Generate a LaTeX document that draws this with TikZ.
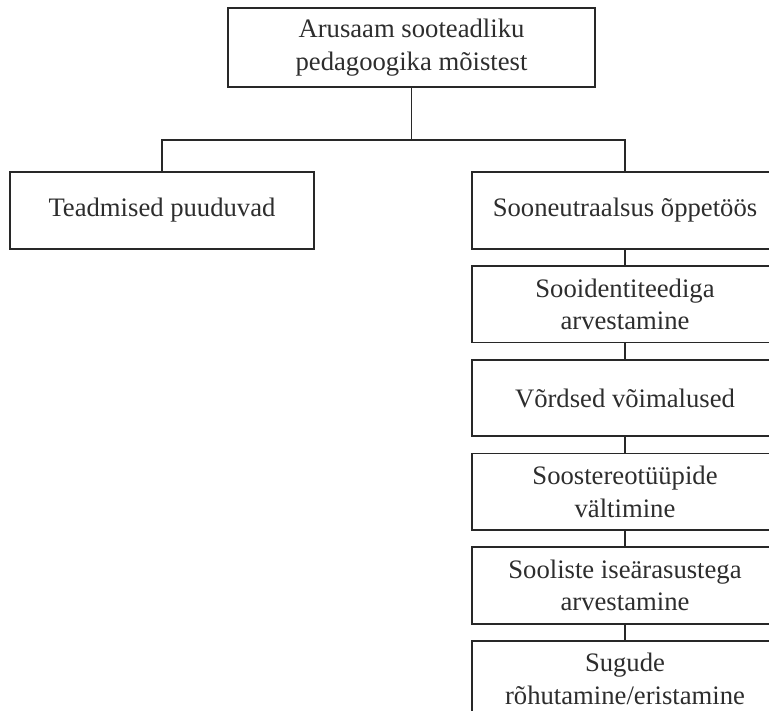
\documentclass[tikz,border=0pt]{standalone}
\usepackage{fontspec}
\setmainfont{Liberation Serif}
\usepackage{tikz}
\usetikzlibrary{positioning}
\definecolor{cLine}{RGB}{40,40,40}
\definecolor{cText}{RGB}{45,45,45}
\tikzset{
	box/.style    ={rectangle, draw=cLine, line width=1.3pt, minimum width=229.5pt, minimum height=57.5pt, align=center, text=cText, inner sep=2pt},
	topbox/.style ={box, minimum width=275pt, minimum height=59pt},
	link/.style   ={draw=cLine, line width=1.3pt},
}

\begin{document}
\begin{tikzpicture}[x=0.75pt, y=-0.75pt, font=\fontsize{20}{24.5}\selectfont, node distance=11.5pt]
	\useasboundingbox (0,0) rectangle (769,711);
	\clip (0,0) rectangle (769,711);
	\node[topbox] (top) at (411.5,47.5) {Arusaam sooteadliku\\pedagoogika mõistest};
	\node[box, minimum width=228pt] (none) at (162,210.5) {Teadmised puuduvad};
	\node[box] (neut) at (625,210.5) {Sooneutraalsus õppetöös};
	\node[box, below=of neut] (ident) {Sooidentiteediga\\arvestamine};
	\node[box, below=of ident] (equal) {Võrdsed võimalused};
	\node[box, below=of equal] (stereo) {Soostereotüüpide\\vältimine};
	\node[box, below=of stereo] (diff) {Sooliste iseärasustega\\arvestamine};
	\node[box, below=of diff] (sexes) {Sugude\\rõhutamine/eristamine};
	\coordinate (split) at (411.5,140);
	\draw[link] (top) -- (split);
	\draw[link] (none.north) |- (split) -| (neut.north);
	\draw[link] (neut) -- (ident); \draw[link] (ident) -- (equal); \draw[link] (equal) -- (stereo);
	\draw[link] (stereo) -- (diff); \draw[link] (diff) -- (sexes);
\end{tikzpicture}
\end{document}
